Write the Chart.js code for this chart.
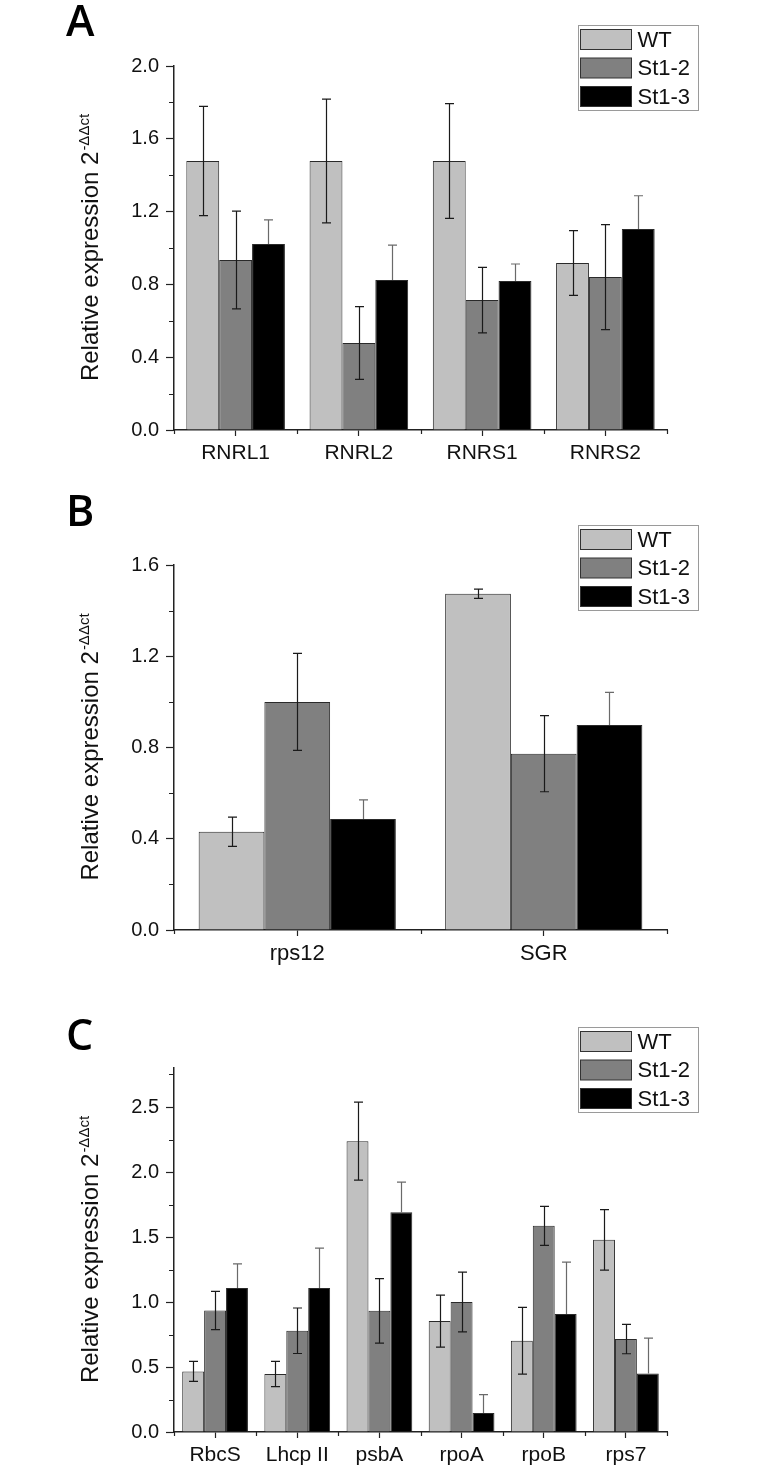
<!DOCTYPE html>
<html><head><meta charset="utf-8">
<script src="https://cdn.jsdelivr.net/npm/chart.js@4.4.1/dist/chart.umd.min.js"></script>
<style>
html,body{margin:0;padding:0;background:#fff;width:766px;height:1471px;overflow:hidden}
.p{position:absolute;left:0;width:766px}
canvas{display:block}
</style></head><body>
<div class="p" style="top:0;height:495px"><canvas id="cA" width="766" height="495"></canvas></div>
<div class="p" style="top:480px;height:495px"><canvas id="cB" width="766" height="495"></canvas></div>
<div class="p" style="top:960px;height:511px"><canvas id="cC" width="766" height="511"></canvas></div>
<script>
// ---- data ----
const seriesNames = ['WT', 'St1-2', 'St1-3'];

const categoriesA = ['RNRL1', 'RNRL2', 'RNRS1', 'RNRS2'];
const wtA    = [1.478, 1.478, 1.478, 0.918];
const st12A  = [0.934, 0.478, 0.714, 0.840];
const st13A  = [1.022, 0.824, 0.819, 1.105];
const wtErrA   = [0.300, 0.340, 0.315, 0.178];
const st12ErrA = [0.269, 0.200, 0.180, 0.288];
const st13ErrA = [0.132, 0.192, 0.093, 0.182];
const yTicksA = [0, 0.4, 0.8, 1.2, 1.6, 2.0];
const yMinorA = [0.2, 0.6, 1.0, 1.4, 1.8];

const categoriesB = ['rps12', 'SGR'];
const wtB    = [0.431, 1.474];
const st12B  = [1.000, 0.773];
const st13B  = [0.487, 0.899];
const wtErrB   = [0.064, 0.020];
const st12ErrB = [0.213, 0.167];
const st13ErrB = [0.083, 0.143];
const yTicksB = [0, 0.4, 0.8, 1.2, 1.6];
const yMinorB = [0.2, 0.6, 1.0, 1.4];

const categoriesC = ['RbcS', 'Lhcp II', 'psbA', 'rpoA', 'rpoB', 'rps7'];
const wtC    = [0.466, 0.446, 2.237, 0.853, 0.702, 1.478];
const st12C  = [0.935, 0.779, 0.932, 1.000, 1.586, 0.715];
const st13C  = [1.107, 1.107, 1.691, 0.146, 0.907, 0.450];
const wtErrC   = [0.077, 0.097, 0.300, 0.200, 0.257, 0.233];
const st12ErrC = [0.147, 0.175, 0.248, 0.230, 0.150, 0.113];
const st13ErrC = [0.187, 0.307, 0.231, 0.141, 0.400, 0.272];
const yTicksC = [0, 0.5, 1.0, 1.5, 2.0, 2.5];
const yMinorC = [0.25, 0.75, 1.25, 1.75, 2.25, 2.75];

// ---- styles ----
const fills = ['#c0c0c0', '#808080', '#000000'];
const errColors = ['#1a1a1a', '#1a1a1a', '#6a6a6a'];
const FONT = '"Liberation Sans", Arial, sans-serif';

function makePanel(opt) {
  const H = opt.height;
  const plugin = {
    id: 'deco' + opt.letter,
    afterDatasetsDraw(chart) {
      const ctx = chart.ctx, ys = chart.scales.y;
      opt.values.forEach((vals, d) => {
        const meta = chart.getDatasetMeta(d);
        meta.data.forEach((el, i) => {
          const v = vals[i], e = opt.errs[d][i];
          const x = Math.round(el.x) + 0.5;
          const yt = ys.getPixelForValue(v + e), yb = ys.getPixelForValue(v - e), yv = ys.getPixelForValue(v);
          ctx.save();
          ctx.lineWidth = 1.2;
          ctx.strokeStyle = errColors[d];
          ctx.beginPath();
          ctx.moveTo(x, yt); ctx.lineTo(x, d === 2 ? yv : yb);
          ctx.moveTo(x - 4.5, yt); ctx.lineTo(x + 4.5, yt);
          if (d !== 2) { ctx.moveTo(x - 4.5, yb); ctx.lineTo(x + 4.5, yb); }
          ctx.stroke();
          ctx.restore();
        });
      });
    },
    afterDraw(chart) {
      const ctx = chart.ctx, ys = chart.scales.y, ca = chart.chartArea;
      ctx.save();
      ctx.strokeStyle = '#222';
      ctx.lineWidth = 1.2;
      ctx.beginPath();
      opt.minor.forEach(v => {
        const y = Math.round(ys.getPixelForValue(v)) + 0.5;
        ctx.moveTo(ca.left - 5, y); ctx.lineTo(ca.left, y);
      });
      const n = opt.categories.length;
      for (let k = 0; k <= n; k++) {
        const x = Math.round(ca.left + (ca.right - ca.left) * k / n) + 0.5;
        ctx.moveTo(x, ca.bottom); ctx.lineTo(x, ca.bottom + 4);
      }
      ctx.stroke();

      const cy = (ca.top + ca.bottom) / 2;
      ctx.fillStyle = '#111';
      ctx.translate(98, cy);
      ctx.rotate(-Math.PI / 2);
      const main = 'Relative expression 2', sup = '-\u0394\u0394ct';
      ctx.font = '24px ' + FONT;
      const w1 = ctx.measureText(main).width;
      ctx.font = '15px ' + FONT;
      const w2 = ctx.measureText(sup).width;
      const x0 = -(w1 + w2) / 2;
      ctx.textBaseline = 'alphabetic';
      ctx.textAlign = 'left';
      ctx.font = '24px ' + FONT;
      ctx.fillText(main, x0, 0);
      ctx.font = '15px ' + FONT;
      ctx.fillText(sup, x0 + w1 + 1, -9);
      ctx.restore();

      ctx.save();
      ctx.fillStyle = '#000';
      ctx.font = '600 43px "Open Sans", "Noto Sans", sans-serif';
      ctx.textBaseline = 'alphabetic';
      ctx.fillText(opt.letter, 66, opt.letterBase);
      ctx.restore();

      ctx.save();
      const lx = 578.5, ly = opt.legendTop + 0.5;
      ctx.strokeStyle = '#9a9a9a';
      ctx.lineWidth = 1;
      ctx.strokeRect(lx, ly, 120, 85);
      ctx.font = '22px ' + FONT;
      ctx.textBaseline = 'middle';
      seriesNames.forEach((name, k) => {
        const sy = ly + 4 + k * 28.5;
        ctx.fillStyle = fills[k];
        ctx.fillRect(lx + 2, sy, 51, 20);
        ctx.strokeStyle = '#333';
        ctx.strokeRect(lx + 2, sy, 51, 20);
        ctx.fillStyle = '#111';
        ctx.fillText(name, lx + 59, sy + 11);
      });
      ctx.restore();
    }
  };

  return new Chart(document.getElementById(opt.id), {
    type: 'bar',
    data: {
      labels: opt.categories,
      datasets: opt.values.map((vals, d) => ({
        label: seriesNames[d],
        data: vals,
        backgroundColor: fills[d],
        borderColor: '#2a2a2a',
        borderWidth: 1,
        barPercentage: 1.0,
        categoryPercentage: 0.8
      }))
    },
    options: {
      responsive: false,
      animation: false,
      events: [],
      layout: { padding: { top: opt.areaTop, right: 99, left: 0, bottom: 0 } },
      plugins: { legend: { display: false }, tooltip: { enabled: false }, title: { display: false } },
      scales: {
        x: {
          type: 'category',
          offset: true,
          grid: { display: true, drawOnChartArea: false, offset: false, tickLength: 6, tickColor: '#222', tickWidth: 1.2 },
          border: { display: true, color: '#222', width: 1.5 },
          ticks: { color: '#111', font: { family: FONT, size: opt.xfs }, padding: 5, maxRotation: 0, autoSkip: false },
          afterFit(s) { s.height = H - opt.areaBottom; }
        },
        y: {
          min: 0,
          max: opt.yMax,
          afterBuildTicks(s) { s.ticks = opt.ticks.map(v => ({ value: v })); },
          grid: { display: true, drawOnChartArea: false, tickLength: 8, tickColor: '#222', tickWidth: 1.2 },
          border: { display: true, color: '#222', width: 1.5 },
          ticks: { color: '#111', font: { family: FONT, size: 20 }, padding: 7, callback: v => Number(v).toFixed(1) },
          afterFit(s) { s.width = 174; }
        }
      }
    },
    plugins: [plugin]
  });
}

makePanel({
  id: 'cA', height: 495, areaTop: 66, areaBottom: 430, letter: 'A', letterBase: 36, legendTop: 25,
  categories: categoriesA, values: [wtA, st12A, st13A], errs: [wtErrA, st12ErrA, st13ErrA],
  yMax: 2.0, ticks: yTicksA, minor: yMinorA, xfs: 21
});
makePanel({
  id: 'cB', height: 495, areaTop: 85, areaBottom: 450, letter: 'B', letterBase: 46, legendTop: 45,
  categories: categoriesB, values: [wtB, st12B, st13B], errs: [wtErrB, st12ErrB, st13ErrB],
  yMax: 1.6, ticks: yTicksB, minor: yMinorB, xfs: 22
});
makePanel({
  id: 'cC', height: 511, areaTop: 108, areaBottom: 472, letter: 'C', letterBase: 90, legendTop: 67,
  categories: categoriesC, values: [wtC, st12C, st13C], errs: [wtErrC, st12ErrC, st13ErrC],
  yMax: 2.8, ticks: yTicksC, minor: yMinorC, xfs: 21
});
</script>
</body></html>
